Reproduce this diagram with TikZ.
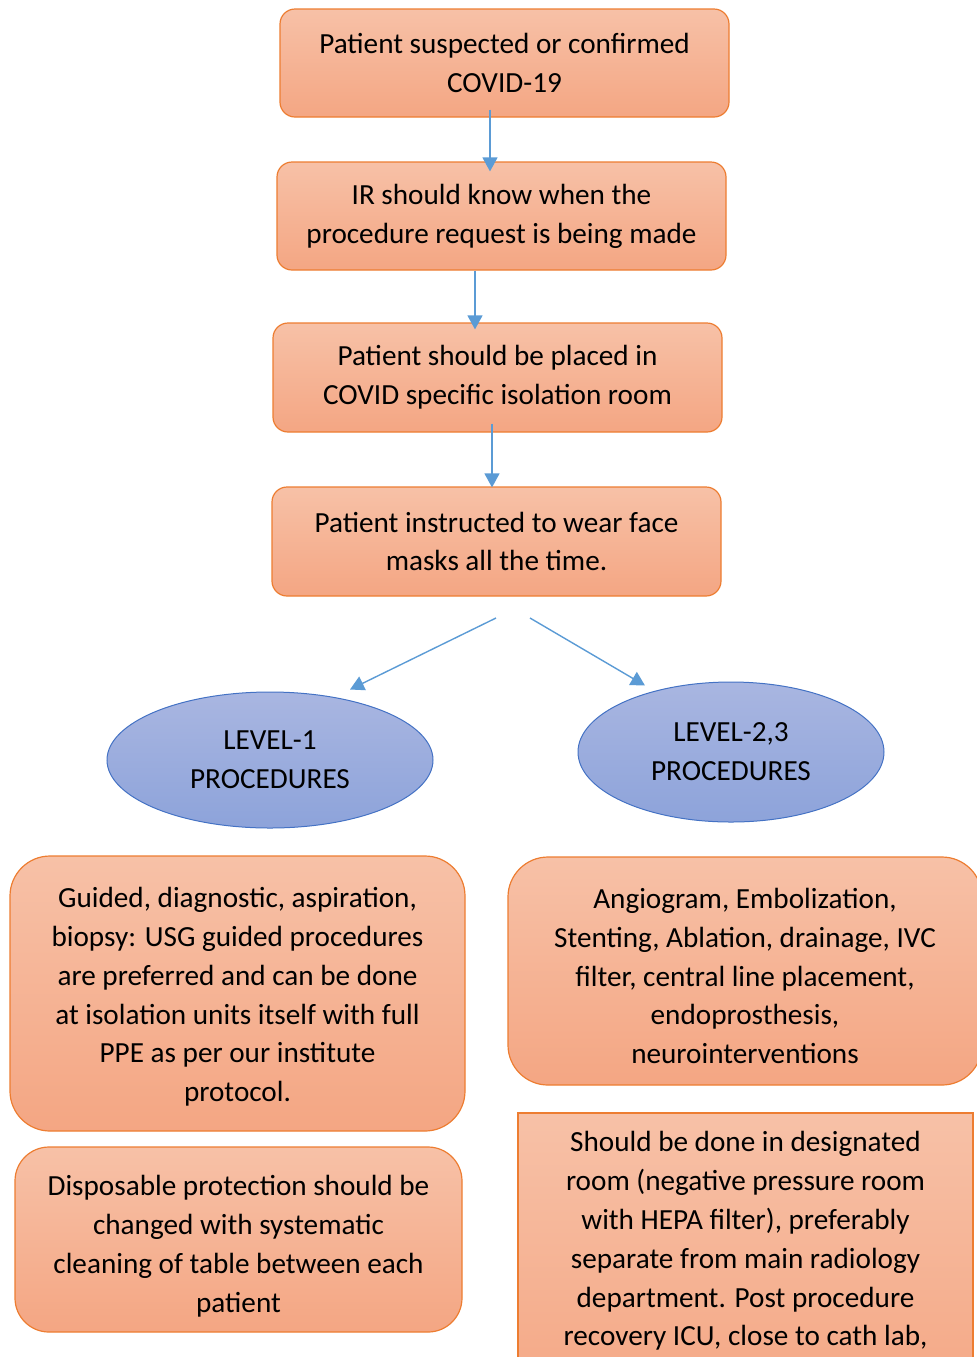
\documentclass[tikz,border=0pt]{standalone}
\usepackage{fontspec}
\setmainfont{Carlito}
\usetikzlibrary{shapes.geometric,arrows.meta}
\definecolor{obord}{HTML}{ED7D31}
\definecolor{otop}{HTML}{F7C1A7}
\definecolor{obot}{HTML}{F4A683}
\definecolor{btop}{HTML}{A9B6E1}
\definecolor{bbot}{HTML}{8DA3DA}
\definecolor{bbord}{HTML}{4472C4}
\definecolor{arr}{HTML}{5B9BD5}
\tikzset{
  obox/.style={draw=obord, line width=0.6pt, top color=otop, bottom color=obot, rounded corners=#1, inner sep=0pt, align=center, font=\fontsize{14.6}{19.4}\selectfont},
  obox/.default=7.5pt,
  lvl/.style={ellipse, draw=bbord, line width=0.5pt, top color=btop, bottom color=bbot, inner sep=0pt, align=center, font=\fontsize{14.6}{19.4}\selectfont},
  flow/.style={draw=arr, line width=0.7pt, -{Triangle[width=7.5pt,length=7pt]}},
  txt/.style={align=center, inner sep=0pt, font=\fontsize{14.6}{19.4}\selectfont}
}
\begin{document}
\begin{tikzpicture}[x=0.5pt,y=-0.5pt]
\useasboundingbox (0,0) rectangle (977,1357);
\clip (0,0) rectangle (977,1357);
\node[obox, minimum width=224.5pt, minimum height=54pt] (box1) at (504.5,63) {Patient suspected or confirmed\\COVID-19};
\node[obox, minimum width=224.5pt, minimum height=54pt] (box2) at (501.5,216) {IR should know when the\\procedure request is being made};
\node[obox, minimum width=224.5pt, minimum height=54.5pt] (box3) at (497.5,377.5) {Patient should be placed in\\COVID specific isolation room};
\node[obox, minimum width=224.5pt, minimum height=54.5pt] (box4) at (496.5,541.5) {Patient instructed to wear face\\masks all the time.};
\node[lvl, minimum width=163pt, minimum height=68pt] (ellL) at (270,760) {LEVEL-1\\PROCEDURES};
\node[lvl, minimum width=153pt, minimum height=70pt] (ellR) at (731,752) {LEVEL-2,3\\PROCEDURES};
\node[obox=20pt, minimum width=227.5pt, minimum height=137.5pt] (box5) at (237.5,993.5) {};
\node[txt] (box5t) at (237.5,997) {Guided, diagnostic, aspiration,\\biopsy: USG guided procedures\\are preferred and can be done\\at isolation units itself with full\\PPE as per our institute\\protocol.};
\node[obox=20pt, minimum width=237pt, minimum height=114pt] (box6) at (745,971) {};
\node[txt] (box6t) at (745,976) {Angiogram, Embolization,\\Stenting, Ablation, drainage, IVC\\filter, central line placement,\\endoprosthesis,\\neurointerventions};
\node[obox=17pt, minimum width=223.5pt, minimum height=92.5pt] (box7) at (238.5,1239.5) {};
\node[txt] (box7t) at (238.5,1246) {Disposable protection should be\\changed with systematic\\cleaning of table between each\\patient};
\node[obox=0pt, minimum width=227.5pt, minimum height=153.5pt] (box8) at (745.5,1266.5) {};
\node[txt] (box8t) at (745.5,1241) {Should be done in designated\\room (negative pressure room\\with HEPA filter), preferably\\separate from main radiology\\department. Post procedure\\recovery ICU, close to cath lab,};
\draw[flow] ([xshift=-7.25pt,yshift=4pt]box1.south) -- ([xshift=-5.75pt,yshift=-5pt]box2.north);
\draw[flow] ([xshift=-13.25pt]box2.south) -- ([xshift=-11.25pt,yshift=-3.5pt]box3.north);
\draw[flow] ([xshift=-2.75pt,yshift=4.5pt]box3.south) -- ([xshift=-2.25pt,yshift=-0.5pt]box4.north);
\coordinate (sl) at (496,618);
\coordinate (sr) at (530,618);
\draw[flow] (sl) -- ([xshift=40pt,yshift=1pt]ellL.north);
\draw[flow] (sr) -- ([xshift=-43pt,yshift=-2pt]ellR.north);
\end{tikzpicture}
\end{document}
